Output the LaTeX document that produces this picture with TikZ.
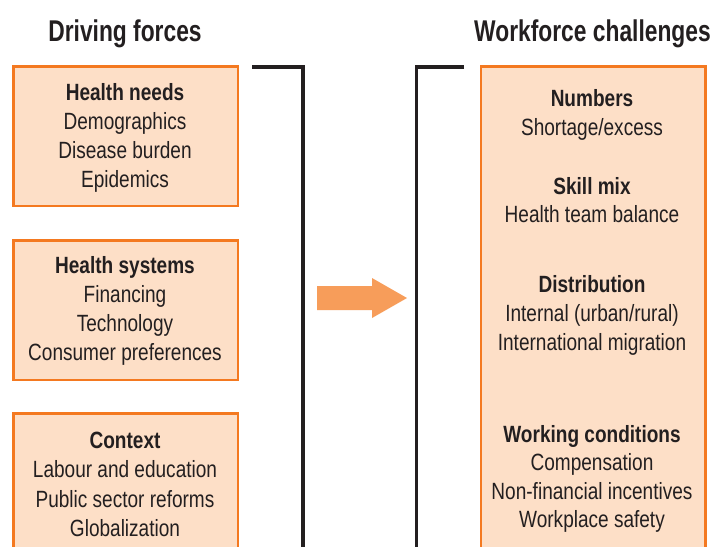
\documentclass[tikz,border=0pt]{standalone}
\usepackage{fontspec}
\setmainfont{Liberation Sans}[FakeStretch=0.81]
\newfontfamily\titlefont{Liberation Sans}[FakeStretch=0.76]
\definecolor{boxfill}{HTML}{FDDFC7}
\definecolor{boxline}{HTML}{F47920}
\definecolor{arrowfill}{HTML}{F79D5A}
\definecolor{ink}{HTML}{231F20}
\begin{document}
\begin{tikzpicture}[x=1pt,y=-1pt,
  panel/.style={draw=boxline, fill=boxfill, line width=2.5pt, inner sep=0pt, anchor=north west},
  txt/.style={font=\fontsize{23.5}{29}\selectfont, text=ink, anchor=base, inner sep=0pt},
  hd/.style={font=\fontsize{23.5}{29}\selectfont\bfseries, text=ink, anchor=base, inner sep=0pt},
  ttl/.style={font=\titlefont\fontsize{30}{34}\selectfont\bfseries, text=ink, anchor=base, inner sep=0pt},
  bracket/.style={draw=ink, line width=3.6pt}]
\useasboundingbox (0,0) rectangle (714,546);
\clip (0,0) rectangle (714,546);
\fill[white] (0,0) rectangle (714,546);

% titles
\node[ttl] (tl) at (125,41) {Driving forces};
\node[ttl] (tr) at (592.5,41) {Workforce challenges};

% left boxes
\node[panel, minimum width=224.4pt, minimum height=139.2pt] (b1) at (12.3,65.3) {};
\node[panel, minimum width=224.4pt, minimum height=139.2pt] (b2) at (12.3,239.3) {};
\node[panel, minimum width=224.4pt, minimum height=150pt] (b3) at (12.3,412.2) {};
% right box
\node[panel, minimum width=224.6pt, minimum height=500pt] (rb) at (479.6,65.3) {};

% box 1 text
\node[hd]  (b1a) at (125,100) {Health needs};
\node[txt] (b1b) at (125,129.1) {Demographics};
\node[txt] (b1c) at (125,158.2) {Disease burden};
\node[txt] (b1d) at (125,187.3) {Epidemics};
% box 2 text
\node[hd]  (b2a) at (125,273.5) {Health systems};
\node[txt] (b2b) at (125,302.5) {Financing};
\node[txt] (b2c) at (125,331.5) {Technology};
\node[txt] (b2d) at (125,360.5) {Consumer preferences};
% box 3 text
\node[hd]  (b3a) at (125,448.3) {Context};
\node[txt] (b3b) at (125,477.8) {Labour and education};
\node[txt] (b3c) at (125,507.2) {Public sector reforms};
\node[txt] (b3d) at (125,536.7) {Globalization};

% right box text
\node[hd]  (r1a) at (592,106.5) {Numbers};
\node[txt] (r1b) at (592,135.5) {Shortage/excess};
\node[hd]  (r2a) at (592,194) {Skill mix};
\node[txt] (r2b) at (592,222.7) {Health team balance};
\node[hd]  (r3a) at (592,292.7) {Distribution};
\node[txt] (r3b) at (592,321.5) {Internal (urban/rural)};
\node[txt] (r3c) at (592,350.3) {International migration};
\node[hd]  (r4a) at (592,442) {Working conditions};
\node[txt] (r4b) at (592,470.5) {Compensation};
\node[txt] (r4c) at (592,499) {Non-financial incentives};
\node[txt] (r4d) at (592,527.5) {Workplace safety};

% brackets
\draw[bracket] (252.3,67) -- (303,67) -- (303,560);
\draw[bracket] (464,67) -- (416.3,67) -- (416.3,560);

% arrow
\fill[arrowfill] (317,286) -- (372,286) -- (372,278) -- (407,298) -- (372,318) -- (372,310) -- (317,310) -- cycle;
\end{tikzpicture}
\end{document}
